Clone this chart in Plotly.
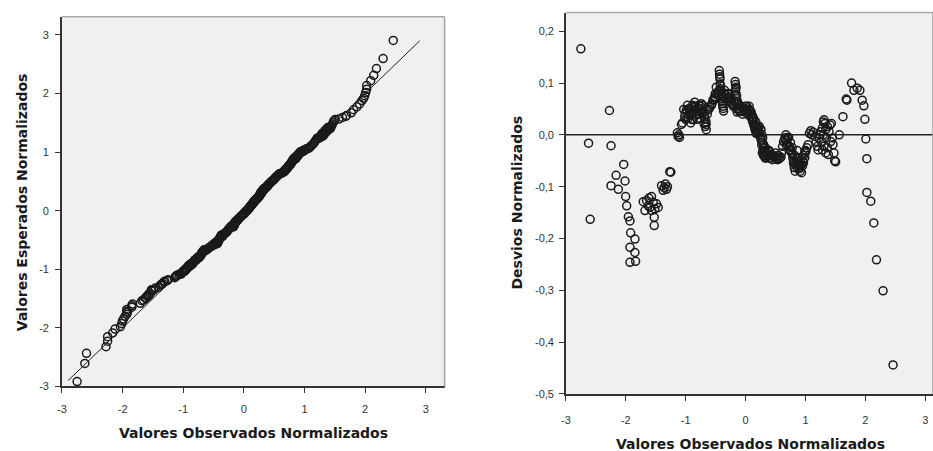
import plotly.graph_objects as go

# Observed standardized values (x) and their detrended deviations (observed - expected)
observed = [
    -2.751, -2.623, -2.596, -2.274, -2.247, -2.247, -2.163, -2.125, -2.036, -2.014,
    -2.003, -1.986, -1.958, -1.931, -1.920, -1.931, -1.931, -1.848, -1.848, -1.837,
    -1.709, -1.681, -1.654, -1.615, -1.571, -1.543, -1.598, -1.515, -1.460, -1.526,
    -1.526, -1.488, -1.626, -1.571,
    -1.404, -1.360, -1.321, -1.377, -1.338, -1.305, -1.266, -1.249,
    -1.139, -1.116, -1.105, -1.127, -1.072, -1.055,
    -1.033, -1.006, -0.972, -0.950, -0.917, -0.889, -0.850, -0.823, -0.795, -0.767,
    -0.740, -0.723, -0.695, -0.673, -0.657, -0.662, -0.629, -0.596, -0.573,
    -0.989, -0.934, -0.906, -0.867, -0.839, -0.806, -0.784, -0.751, -0.712, -0.684,
    -0.961, -0.878, -1.017,
    -1.000, -0.980, -0.950, -0.920, -0.900, -0.880, -0.860, -0.830, -0.810, -0.790,
    -0.770, -0.750, -0.730, -0.700, -0.680, -0.660, -0.640, -0.610,
    -0.546, -0.518, -0.490, -0.463, -0.507,
    -0.560, -0.530, -0.500, -0.480, -0.450,
    -0.440, -0.435, -0.429, -0.424, -0.418, -0.407, -0.396, -0.385, -0.374, -0.368,
    -0.430, -0.420, -0.410, -0.400, -0.390, -0.380, -0.360, -0.340, -0.320, -0.300,
    -0.280, -0.260, -0.230, -0.200, -0.180, -0.170, -0.160, -0.150, -0.140, -0.120,
    -0.100,
    -0.352, -0.324, -0.296, -0.269, -0.252, -0.241, -0.213,
    -0.175, -0.169, -0.163, -0.158, -0.152, -0.147, -0.130, -0.141,
    -0.102, -0.075, -0.047, -0.019, 0.008, 0.036, 0.064, 0.080, 0.102, 0.119,
    0.136, 0.158, 0.175, 0.202, 0.230, 0.258, 0.269, 0.285, 0.302, 0.313,
    0.324, 0.341, 0.368, 0.396, 0.424, 0.452, 0.479, 0.507, 0.535, 0.562,
    0.590, 0.618, 0.634, 0.657, 0.673, 0.690, 0.701, 0.729, 0.756, 0.784,
    0.801, 0.812, 0.828, 0.856, 0.878, 0.895, 0.911, 0.934, 0.950, 0.967,
    0.989, 1.006, 1.022, 1.044, 1.066, 1.089, 1.105, 1.133, 1.161, 1.177,
    1.199, 1.211, 1.227, 1.244, 1.255, 1.283, 1.299, 1.310, 1.327, 1.338,
    1.349, 1.366, 1.382, 1.410, 1.432, 1.449, 1.460, 1.476, 1.488, 1.504,
    1.266, 1.283, 1.310, 1.338, 1.393, 1.421, 1.366, 1.299,
    0.020, 0.050, 0.070, 0.100, 0.120, 0.140, 0.160, 0.180, 0.200, 0.220,
    0.250, 0.280, 0.300, 0.320, 0.330, 0.350, 0.300, 0.280, 0.380, 0.400,
    0.450, 0.500, 0.550,
    0.010, 0.030, 0.060, 0.090, 0.110, 0.130, 0.150, 0.170, 0.190, 0.210,
    0.230, 0.260, 0.270, 0.290, 0.310, 0.330, 0.360, 0.390, 0.420, 0.470,
    0.520, 0.570, 0.600,
    -0.120, -0.080, -0.050, -0.020, 0.000, -0.150,
    0.720, 0.750, 0.780, 0.820, 0.850, 0.880, 0.900, 0.930, 0.970, 1.000,
    0.800, 0.860,
    0.660, 0.680, 0.700, 0.740, 0.770, 0.790, 0.830, 0.870, 0.890, 0.920,
    0.960, 0.990,
    1.565, 1.626, 1.681, 1.692, 1.770, 1.809, 1.864, 1.909, 1.947, 1.975,
    1.992, 2.008, 2.025, 2.025, 2.091, 2.141, 2.186, 2.296, 2.463,
]

deviation = [
    0.166, -0.016, -0.163, 0.047, -0.021, -0.098, -0.078, -0.105, -0.057, -0.089,
    -0.119, -0.137, -0.158, -0.166, -0.189, -0.217, -0.246, -0.201, -0.227, -0.244,
    -0.129, -0.146, -0.127, -0.122, -0.119, -0.130, -0.140, -0.143, -0.140, -0.159,
    -0.175, -0.133, -0.137, -0.146,
    -0.098, -0.102, -0.105, -0.107, -0.095, -0.100, -0.071, -0.072,
    0.004, 0.000, -0.005, -0.003, 0.020, 0.023,
    0.049, 0.041, 0.057, 0.038, 0.023, 0.057, 0.063, 0.038, 0.051, 0.032,
    0.060, 0.041, 0.022, 0.016, 0.010, 0.025, 0.048, 0.054, 0.057,
    0.048, 0.051, 0.041, 0.048, 0.054, 0.041, 0.057, 0.044, 0.057, 0.035,
    0.032, 0.029, 0.035,
    0.030, 0.045, 0.050, 0.040, 0.030, 0.045, 0.055, 0.050, 0.030, 0.040,
    0.050, 0.055, 0.050, 0.045, 0.030, 0.020, 0.040, 0.050,
    0.067, 0.073, 0.092, 0.076, 0.079,
    0.060, 0.068, 0.070, 0.080, 0.085,
    0.124, 0.117, 0.108, 0.098, 0.089, 0.079, 0.070, 0.060, 0.051, 0.046,
    0.112, 0.095, 0.085, 0.075, 0.065, 0.055, 0.080, 0.070, 0.065, 0.070,
    0.080, 0.065, 0.060, 0.055, 0.065, 0.085, 0.092, 0.075, 0.065, 0.050,
    0.045,
    0.086, 0.076, 0.079, 0.073, 0.063, 0.070, 0.057,
    0.103, 0.097, 0.089, 0.079, 0.070, 0.060, 0.051, 0.044,
    0.057, 0.054, 0.051, 0.051, 0.048, 0.044, 0.041, 0.035, 0.032, 0.025,
    0.019, 0.010, 0.003, 0.013, 0.016, 0.010, 0.000, -0.006, -0.019, -0.032,
    -0.041, -0.044, -0.029, -0.032, -0.038, -0.041, -0.043, -0.046, -0.048, -0.046,
    -0.043, -0.022, -0.013, -0.006, 0.000, -0.010, -0.019, -0.022, -0.029, -0.038,
    -0.051, -0.063, -0.070, -0.054, -0.051, -0.057, -0.070, -0.073, -0.060, -0.054,
    -0.044, -0.032, -0.025, -0.019, 0.003, 0.008, 0.000, 0.005, -0.003, -0.013,
    -0.022, -0.029, -0.006, 0.000, 0.006, 0.013, 0.025, 0.029, 0.022, 0.010,
    -0.006, -0.025, -0.038, 0.019, 0.022, -0.006, -0.019, -0.035, -0.050, -0.052,
    -0.013, -0.029, -0.022, -0.035, 0.006, -0.013, 0.016, 0.000,
    0.055, 0.050, 0.045, 0.040, 0.035, 0.030, 0.020, 0.015, 0.005, 0.000,
    -0.005, -0.015, -0.025, -0.030, -0.045, -0.035, -0.040, -0.035, -0.040, -0.045,
    -0.048, -0.035, -0.040,
    0.045, 0.040, 0.055, 0.045, 0.030, 0.025, 0.015, 0.025, 0.010, 0.015,
    0.005, -0.010, -0.020, -0.030, -0.040, -0.025, -0.040, -0.030, -0.045, -0.040,
    -0.045, -0.045, -0.035,
    0.060, 0.045, 0.040, 0.045, 0.055, 0.050,
    -0.005, -0.015, -0.025, -0.040, -0.045, -0.060, -0.065, -0.055, -0.040, -0.030,
    -0.055, -0.030,
    -0.010, -0.020, -0.005, -0.030, -0.035, -0.045, -0.055, -0.065, -0.045, -0.060,
    -0.050, -0.035,
    0.000, 0.035, 0.069, 0.067, 0.100, 0.086, 0.090, 0.086, 0.067, 0.056,
    0.030, -0.008, -0.046, -0.111, -0.128, -0.170, -0.241, -0.301, -0.444,
]

# Expected normal scores follow from the detrended deviations
expected = [o - d for o, d in zip(observed, deviation)]

# Reference diagonal of the normal Q-Q plot
ref_line = [-2.9, 2.9]

qq_ticks = [-3, -2, -1, 0, 1, 2, 3]
qq_ticktext = ["-3", "-2", "-1", "0", "1", "2", "3"]
dev_ticks = [-0.5, -0.4, -0.3, -0.2, -0.1, 0.0, 0.1, 0.2]
dev_ticktext = ["-0,5", "-0,4", "-0,3", "-0,2", "-0,1", "0,0", "0,1", "0,2"]

marker_style = dict(symbol="circle-open", size=8, color="#1a1a1a",
                    line=dict(width=1.5, color="#1a1a1a"))

fig = go.Figure()

fig.add_trace(go.Scatter(x=ref_line, y=ref_line, mode="lines",
                         line=dict(color="#222222", width=1),
                         xaxis="x", yaxis="y", hoverinfo="skip"))
fig.add_trace(go.Scatter(x=observed, y=expected, mode="markers",
                         marker=marker_style, xaxis="x", yaxis="y"))
fig.add_trace(go.Scatter(x=observed, y=deviation, mode="markers",
                         marker=marker_style, xaxis="x2", yaxis="y2"))

tick_font = dict(family="Liberation Sans, Arial, sans-serif", size=11, color="#333333")
axis_common = dict(showgrid=False, zeroline=False, showline=True,
                   linecolor="#333333", linewidth=1.6,
                   ticks="outside", ticklen=5, tickwidth=1.2, tickcolor="#333333",
                   tickfont=tick_font)

fig.update_layout(
    width=933, height=451,
    margin=dict(l=0, r=0, t=0, b=0),
    paper_bgcolor="white",
    plot_bgcolor="#f0f0f0",
    showlegend=False,
    xaxis=dict(domain=[0.0614, 0.4737], range=[-3, 3.31], anchor="y",
               tickvals=qq_ticks, ticktext=qq_ticktext, ticklabelstandoff=7,
               **axis_common),
    yaxis=dict(domain=[0.1315, 0.9623], range=[-3, 3.31], anchor="x",
               tickvals=qq_ticks, ticktext=qq_ticktext, ticklabelstandoff=4,
               **axis_common),
    xaxis2=dict(domain=[0.6045, 1.0], range=[-3, 3.13], anchor="y2",
                tickvals=qq_ticks, ticktext=qq_ticktext, ticklabelstandoff=10,
                **axis_common),
    yaxis2=dict(domain=[0.1146, 0.9718], range=[-0.5, 0.236], anchor="x2",
                tickvals=dev_ticks, ticktext=dev_ticktext, ticklabelstandoff=3,
                **axis_common),
)

# light frame on the top and right of each plot area
frame = dict(color="#a8a8a8", width=1.6)
for xr, yr in (("x", "y"), ("x2", "y2")):
    fig.add_shape(type="line", xref=f"{xr} domain", yref=f"{yr} domain",
                  x0=0, x1=1, y0=1, y1=1, line=frame)
    fig.add_shape(type="line", xref=f"{xr} domain", yref=f"{yr} domain",
                  x0=1, x1=1, y0=0, y1=1, line=frame)

# zero reference of the detrended plot
fig.add_shape(type="line", xref="x2 domain", yref="y2", x0=0, x1=1, y0=0, y1=0,
              line=dict(color="#222222", width=1.5), layer="below")

title_font = dict(family="DejaVu Sans, Verdana, sans-serif", size=14, color="#1a1a1a")
titles = [
    ("<b>Valores Observados Normalizados</b>", 250 / 933, 1 - 439 / 451, 0),
    ("<b>Valores Esperados Normalizados</b>", 17 / 933, 1 - 205 / 451, -90),
    ("<b>Valores Observados Normalizados</b>", 750 / 933, 1 - 450 / 451, 0),
    ("<b>Desvios Normalizados</b>", 515 / 933, 1 - 205 / 451, -90),
]
for text, x, y, angle in titles:
    fig.add_annotation(text=text, xref="paper", yref="paper", x=x, y=y,
                       xanchor="center", yanchor="middle", showarrow=False,
                       textangle=angle, font=title_font)

fig.write_html("out.html")
